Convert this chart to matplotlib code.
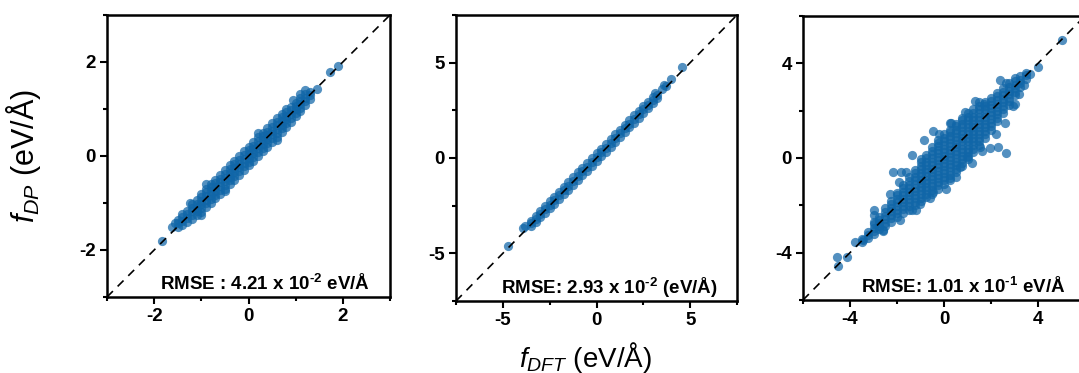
#!/usr/bin/env python3
"""Parity plots DP vs DFT forces for three data sets."""

import matplotlib

matplotlib.use("Agg")
import matplotlib.pyplot as plt  # noqa: E402
from matplotlib.ticker import MultipleLocator  # noqa: E402


# panel 1 : columns of points read along the band (x, then y values)
p1_cols_x = [-1.5, -1.4, -1.3, -1.2, -1.1, -1.0, -0.9, -0.8, -0.7, -0.6,
             -0.5, -0.4, -0.3, -0.2, -0.1, 0.0, 0.1, 0.2, 0.3, 0.4,
             0.5, 0.6, 0.7, 0.8, 0.9, 1.0, 1.1, 1.2, 1.3]
p1_cols_y = [
    [-1.50, -1.43, -1.37],
    [-1.46, -1.38, -1.30, -1.24],
    [-1.40, -1.32, -1.24, -1.16],
    [-1.34, -1.26, -1.18, -1.10, -1.03],
    [-1.26, -1.18, -1.10, -1.02, -0.94],
    [-1.19, -1.11, -1.03, -0.95, -0.87, -0.80],
    [-1.09, -1.01, -0.93, -0.85, -0.77, -0.70],
    [-0.99, -0.91, -0.83, -0.75, -0.67, -0.60],
    [-0.90, -0.82, -0.74, -0.66, -0.58, -0.50],
    [-0.80, -0.72, -0.64, -0.56, -0.48, -0.40],
    [-0.70, -0.62, -0.54, -0.46, -0.38, -0.30],
    [-0.60, -0.52, -0.44, -0.36, -0.28, -0.20],
    [-0.50, -0.42, -0.34, -0.26, -0.18, -0.10],
    [-0.40, -0.32, -0.24, -0.16, -0.08, 0.00],
    [-0.30, -0.22, -0.14, -0.06, 0.02, 0.10],
    [-0.20, -0.12, -0.04, 0.04, 0.12, 0.20],
    [-0.10, -0.02, 0.06, 0.14, 0.22, 0.30],
    [0.00, 0.08, 0.16, 0.24, 0.32, 0.40],
    [0.10, 0.18, 0.26, 0.34, 0.42, 0.50],
    [0.20, 0.28, 0.36, 0.44, 0.52, 0.60],
    [0.30, 0.38, 0.46, 0.54, 0.62, 0.70],
    [0.41, 0.49, 0.57, 0.65, 0.73, 0.80],
    [0.51, 0.59, 0.67, 0.75, 0.83, 0.90],
    [0.62, 0.70, 0.78, 0.86, 0.94, 1.00],
    [0.73, 0.81, 0.89, 0.97, 1.05],
    [0.85, 0.92, 0.99, 1.06, 1.13],
    [0.96, 1.03, 1.10, 1.17, 1.24],
    [1.09, 1.16, 1.23, 1.32],
    [1.22, 1.29, 1.36],
]
p1_extra_x = [-1.83, -1.62, -1.55, -1.25, -1.00, -0.90, -0.50, 0.20, 0.60,
              0.95, 1.10, 1.19, 1.45, 1.72, 1.90]
p1_extra_y = [-1.80, -1.52, -1.43, -1.00, -1.25, -0.60, -0.75, 0.48, 0.35,
              1.20, 1.32, 1.40, 1.42, 1.78, 1.92]

# panel 2
p2_cols_x = [-3.5, -3.25, -3.0, -2.75, -2.5, -2.25, -2.0, -1.75, -1.5,
             -1.25, -1.0, -0.75, -0.5, -0.25, 0.0, 0.25, 0.5, 0.75, 1.0,
             1.25, 1.5, 1.75, 2.0, 2.25, 2.5, 2.75, 3.0, 3.25]
p2_cols_y = [
    [-3.55, -3.42, -3.30],
    [-3.36, -3.18, -3.02],
    [-3.12, -2.95, -2.78],
    [-2.88, -2.70, -2.52],
    [-2.64, -2.45, -2.28],
    [-2.40, -2.20, -2.02],
    [-2.14, -1.95, -1.76],
    [-1.90, -1.70, -1.52],
    [-1.66, -1.45, -1.27],
    [-1.40, -1.20, -1.02],
    [-1.16, -0.95, -0.76],
    [-0.90, -0.70, -0.52],
    [-0.66, -0.45, -0.26],
    [-0.40, -0.20, -0.02],
    [-0.16, 0.05, 0.24],
    [0.10, 0.30, 0.48],
    [0.34, 0.55, 0.74],
    [0.60, 0.80, 0.98],
    [0.84, 1.05, 1.24],
    [1.10, 1.30, 1.48],
    [1.34, 1.55, 1.74],
    [1.60, 1.80, 1.98],
    [1.84, 2.05, 2.24],
    [2.10, 2.30, 2.48],
    [2.36, 2.55, 2.72],
    [2.62, 2.80, 2.96],
    [2.90, 3.05, 3.18],
    [3.16, 3.30],
]
p2_extra_x = [-4.75, -3.92, -3.84, 3.14, 3.50, 3.62, 3.70, 3.97, 4.56]
p2_extra_y = [-4.59, -3.65, -3.57, 3.39, 3.62, 3.83, 3.78, 4.15, 4.77]

# panel 3
p3_cols_x = [-3.5, -3.25, -3.0, -2.75, -2.5, -2.25, -2.0, -1.75, -1.5,
             -1.25, -1.0, -0.75, -0.5, -0.25, 0.0, 0.25, 0.5, 0.75, 1.0,
             1.25, 1.5, 1.75, 2.0, 2.25, 2.5, 2.75, 3.0, 3.25, 3.5]
p3_cols_y = [
    [-3.55, -3.42],
    [-3.40, -3.27, -3.12],
    [-3.22, -3.08, -2.94, -2.80, -2.70],
    [-3.02, -2.88, -2.74, -2.60, -2.48],
    [-2.88, -2.73, -2.58, -2.43, -2.28, -2.13],
    [-2.70, -2.55, -2.40, -2.25, -2.10, -1.95, -1.80],
    [-2.48, -2.33, -2.18, -2.03, -1.88, -1.73, -1.58, -1.48],
    [-2.32, -2.17, -2.02, -1.87, -1.72, -1.57, -1.42, -1.27, -1.15],
    [-2.18, -2.03, -1.88, -1.73, -1.58, -1.43, -1.28, -1.13, -0.98,
     -0.82],
    [-2.00, -1.85, -1.70, -1.55, -1.40, -1.25, -1.10, -0.95, -0.80,
     -0.65, -0.50],
    [-1.82, -1.67, -1.52, -1.37, -1.22, -1.07, -0.92, -0.77, -0.62,
     -0.47, -0.32, -0.17, -0.05],
    [-1.66, -1.51, -1.36, -1.21, -1.06, -0.91, -0.76, -0.61, -0.46,
     -0.31, -0.16, -0.01, 0.14],
    [-1.50, -1.35, -1.20, -1.05, -0.90, -0.75, -0.60, -0.45, -0.30,
     -0.15, 0.00, 0.15, 0.30, 0.45],
    [-1.30, -1.15, -1.00, -0.85, -0.70, -0.55, -0.40, -0.25, -0.10,
     0.05, 0.20, 0.35, 0.50, 0.65, 0.75],
    [-1.10, -0.95, -0.80, -0.65, -0.50, -0.35, -0.20, -0.05, 0.10,
     0.25, 0.40, 0.55, 0.70, 0.85, 1.00],
    [-0.85, -0.70, -0.55, -0.40, -0.25, -0.10, 0.05, 0.20, 0.35,
     0.50, 0.65, 0.80, 0.95, 1.10, 1.20],
    [-0.60, -0.45, -0.30, -0.15, 0.00, 0.15, 0.30, 0.45, 0.60,
     0.75, 0.90, 1.05, 1.20, 1.35, 1.45],
    [-0.35, -0.20, -0.05, 0.10, 0.25, 0.40, 0.55, 0.70, 0.85,
     1.00, 1.15, 1.30, 1.45, 1.60, 1.70],
    [-0.05, 0.10, 0.25, 0.40, 0.55, 0.70, 0.85, 1.00, 1.15,
     1.30, 1.45, 1.60, 1.75, 1.90],
    [0.25, 0.40, 0.55, 0.70, 0.85, 1.00, 1.15, 1.30, 1.45,
     1.60, 1.75, 1.90, 2.05],
    [0.55, 0.70, 0.85, 1.00, 1.15, 1.30, 1.45, 1.60, 1.75,
     1.90, 2.05, 2.20, 2.35],
    [0.85, 1.00, 1.15, 1.30, 1.45, 1.60, 1.75, 1.90, 2.05, 2.20, 2.35],
    [1.20, 1.35, 1.50, 1.65, 1.80, 1.95, 2.10, 2.25, 2.40, 2.55],
    [1.55, 1.70, 1.85, 2.00, 2.15, 2.30, 2.45, 2.60, 2.75],
    [1.90, 2.05, 2.20, 2.35, 2.50, 2.65, 2.80, 2.95],
    [2.25, 2.40, 2.55, 2.70, 2.85, 3.00, 3.15],
    [2.65, 2.80, 2.95, 3.10, 3.25, 3.38],
    [3.00, 3.15, 3.30, 3.45],
    [3.35, 3.50, 3.60],
]
p3_extra_x = [-4.50, -4.57, -4.14, -3.80, -3.43, -2.98, -2.58, -2.17, -1.87,
              -1.81, -1.38, -1.38, -1.02, -0.85, -0.45, -0.45, 0.26, 0.26,
              0.68, 0.90, 0.96, 1.53, 1.70, 1.96, 2.28, 2.64, 2.64, 2.95,
              3.66, 4.00, 5.00, -2.30, -1.90, -1.60, 0.50, 1.20, 1.60,
              2.20, 2.60, 3.00, 3.20, -0.20, 0.30, -3.00, -2.60, -1.20,
              -0.60, 0.10, 2.40, 1.30, 3.40]
p3_extra_y = [-4.55, -4.20, -4.17, -3.55, -3.46, -2.18, -3.06, -0.58, -2.64,
              -0.58, 0.13, -2.18, -1.93, 0.77, 1.12, -1.43, 1.48, -0.94,
              -0.37, 1.95, 0.06, 0.48, 2.30, 0.43, 0.48, 0.20, 3.18, 2.18,
              3.53, 3.83, 5.00, -1.50, -1.00, -0.60, -0.80, -0.20, 0.30,
              1.00, 1.50, 2.30, 2.70, 1.00, 1.50, -2.40, -3.10, -2.20,
              -1.70, -1.30, 3.30, 2.40, 3.10]

limits = [3.0, 7.5, 6.0]
major_steps = [2, 5, 4]
rmse_labels = [
    "RMSE : 4.21 x 10$^{\\mathbf{\u2010 2}}$ eV/Å",
    "RMSE: 2.93 x 10$^{\\mathbf{\u2010 2}}$ (eV/Å)",
    "RMSE: 1.01 x 10$^{\\mathbf{\u2010 1}}$ eV/Å",
]

plt.rcParams["font.family"] = ["Liberation Sans", "DejaVu Sans"]
plt.rcParams["mathtext.fontset"] = "custom"
plt.rcParams["mathtext.rm"] = "Liberation Sans"
plt.rcParams["mathtext.it"] = "Liberation Sans:italic"
plt.rcParams["mathtext.bf"] = "Liberation Sans:bold"
plt.rcParams["axes.unicode_minus"] = False

point_color = "#1066a8"

panels = [
    (p1_cols_x, p1_cols_y, p1_extra_x, p1_extra_y),
    (p2_cols_x, p2_cols_y, p2_extra_x, p2_extra_y),
    (p3_cols_x, p3_cols_y, p3_extra_x, p3_extra_y),
]
boxes = [
    (107, 15, 283, 282),
    (456, 15, 281, 286),
    (803, 16, 282, 284),
]

W, H = 1079, 373
fig = plt.figure(figsize=(W / 100, H / 100), dpi=100)
axes = []
for (left, top, width, height), lim, step, label, data in zip(
    boxes, limits, major_steps, rmse_labels, panels
):
    ax = fig.add_axes([left / W, (H - top - height) / H, width / W, height / H])
    cols_x, cols_y, extra_x, extra_y = data
    xs = [x for x, ys in zip(cols_x, cols_y) for _ in ys] + extra_x
    ys = [y for ys in cols_y for y in ys] + extra_y
    ax.scatter(xs, ys, s=44, color=point_color, alpha=0.72, linewidths=0,
               zorder=2)
    ax.plot([-lim, lim], [-lim, lim], color="black", linestyle=(0, (5, 4)),
            linewidth=1.2, zorder=3)
    ax.set_xlim(-lim, lim)
    ax.set_ylim(-lim, lim)
    for axis in (ax.xaxis, ax.yaxis):
        axis.set_major_locator(MultipleLocator(step))
        axis.set_minor_locator(MultipleLocator(step / 2))
    ax.tick_params(which="major", direction="out", length=5, width=1.5,
                   labelsize=13.5, pad=3)
    ax.tick_params(which="minor", direction="out", length=3, width=1.5)
    for lab in ax.get_xticklabels() + ax.get_yticklabels():
        lab.set_fontweight("bold")
    for spine in ax.spines.values():
        spine.set_linewidth(1.8)
    ax.text(0.93, 0.045, label, transform=ax.transAxes, ha="right",
            va="center", fontsize=13.5, fontweight="bold", zorder=4)
    axes.append(ax)

axes[0].set_ylabel(r"$f_{DP}$ (eV/Å)", fontsize=22, labelpad=26)
axes[1].set_xlabel(r"$f_{DFT}$ (eV/Å)", fontsize=20, labelpad=4)
axes[1].xaxis.set_label_coords(0.46, -0.135)

fig.savefig("out.png", dpi=100)
